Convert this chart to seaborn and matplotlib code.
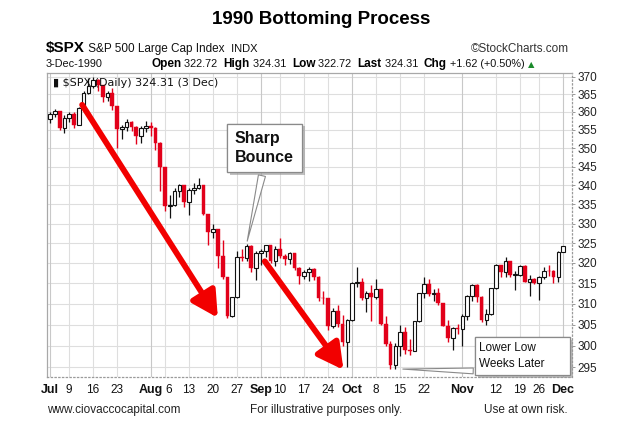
import matplotlib
matplotlib.use("Agg")
import matplotlib.pyplot as plt
import matplotlib.patheffects as pe
from matplotlib.patches import Rectangle
from matplotlib.ticker import FixedLocator, NullLocator, FixedFormatter
import numpy as np
import pandas as pd
import seaborn as sns

# ---------------- data ----------------
dates = ["Jul 2", "Jul 3", "Jul 5", "Jul 6", "Jul 9", "Jul 10", "Jul 11", "Jul 12", "Jul 13",
         "Jul 16", "Jul 17", "Jul 18", "Jul 19", "Jul 20", "Jul 23", "Jul 24", "Jul 25", "Jul 26",
         "Jul 27", "Jul 30", "Jul 31", "Aug 1", "Aug 2", "Aug 3", "Aug 6", "Aug 7", "Aug 8",
         "Aug 9", "Aug 10", "Aug 13", "Aug 14", "Aug 15", "Aug 16", "Aug 17", "Aug 20", "Aug 21",
         "Aug 22", "Aug 23", "Aug 24", "Aug 27", "Aug 28", "Aug 29", "Aug 30", "Aug 31", "Sep 4",
         "Sep 5", "Sep 6", "Sep 7", "Sep 10", "Sep 11", "Sep 12", "Sep 13", "Sep 14", "Sep 17",
         "Sep 18", "Sep 19", "Sep 20", "Sep 21", "Sep 24", "Sep 25", "Sep 26", "Sep 27", "Sep 28",
         "Oct 1", "Oct 2", "Oct 3", "Oct 4", "Oct 5", "Oct 8", "Oct 9", "Oct 10", "Oct 11",
         "Oct 12", "Oct 15", "Oct 16", "Oct 17", "Oct 18", "Oct 19", "Oct 22", "Oct 23", "Oct 24",
         "Oct 25", "Oct 26", "Oct 29", "Oct 30", "Oct 31", "Nov 1", "Nov 2", "Nov 5", "Nov 6",
         "Nov 7", "Nov 8", "Nov 9", "Nov 12", "Nov 13", "Nov 14", "Nov 15", "Nov 16", "Nov 19",
         "Nov 20", "Nov 21", "Nov 23", "Nov 26", "Nov 27", "Nov 28", "Nov 29", "Nov 30", "Dec 3"]

opens = [358.02, 359.54, 360.16, 355.42, 358.42, 359.52, 356.49, 361.23, 365.44,
         367.31, 368.95, 367.52, 364.22, 365.32, 361.61, 355.31, 355.79, 357.09,
         355.91, 353.44, 355.52, 356.15, 355.52, 351.48, 344.86, 334.43, 334.83,
         338.35, 339.94, 335.52, 338.84, 339.39, 340.06, 332.39, 327.83, 328.51,
         321.86, 316.55, 307.06, 311.51, 321.44, 321.34, 324.19, 318.71, 322.56,
         323.09, 324.39, 320.46, 323.40, 321.63, 321.04, 322.54, 318.65, 316.83,
         317.77, 318.60, 316.60, 311.48, 311.32, 304.59, 308.26, 305.06, 300.97,
         306.10, 314.94, 315.21, 311.40, 312.69, 311.50, 313.48, 305.10, 300.39,
         295.46, 300.03, 303.23, 298.92, 298.76, 305.74, 312.48, 314.76, 312.36,
         312.60, 310.17, 304.71, 301.88, 304.06, 304.00, 307.02, 311.85, 314.59,
         311.62, 306.01, 307.61, 313.74, 319.48, 317.67, 320.40, 317.02, 317.12,
         319.34, 315.31, 316.03, 315.10, 316.51, 318.10, 317.95, 316.42, 322.72]

highs = [359.9, 360.9, 360.2, 359.2, 360.0, 360.1, 361.5, 366.0, 369.7,
         369.8, 369.4, 367.6, 366.0, 366.8, 361.8, 356.3, 358.0, 357.6,
         356.0, 356.0, 357.5, 357.3, 355.7, 351.7, 344.9, 337.3, 339.2,
         340.2, 340.0, 339.2, 340.7, 341.9, 340.1, 332.5, 329.9, 328.6,
         325.8, 316.6, 311.7, 323.1, 323.4, 324.8, 324.6, 323.0, 323.4,
         324.5, 324.5, 324.2, 326.3, 322.2, 322.8, 322.6, 318.9, 318.3,
         318.9, 318.7, 316.7, 313.1, 311.4, 308.9, 309.6, 307.3, 306.4,
         315.2, 319.1, 316.3, 313.1, 314.5, 316.0, 313.6, 307.0, 301.0,
         300.6, 304.8, 304.3, 301.5, 305.9, 312.6, 316.6, 316.0, 313.5,
         313.7, 310.2, 306.1, 304.4, 305.1, 307.6, 312.0, 314.7, 314.7,
         311.8, 308.8, 313.9, 319.7, 319.6, 321.4, 320.6, 318.0, 319.6,
         319.4, 317.1, 316.2, 316.7, 318.9, 319.4, 318.3, 323.1, 324.31]

lows = [357.0, 358.6, 354.9, 354.0, 357.2, 355.6, 356.3, 360.6, 365.0,
        366.8, 365.9, 362.8, 363.0, 360.5, 350.0, 352.5, 354.8, 354.7,
        351.2, 351.5, 354.3, 353.3, 349.5, 338.5, 333.3, 331.3, 334.5,
        336.8, 334.2, 332.2, 337.6, 339.0, 332.1, 324.5, 326.2, 318.8,
        316.0, 306.6, 306.9, 311.4, 320.6, 320.5, 317.7, 315.8, 319.5,
        321.5, 319.9, 319.2, 321.3, 319.6, 319.8, 318.3, 314.8, 316.0,
        315.5, 315.8, 310.6, 309.8, 303.6, 304.1, 304.4, 299.9, 295.0,
        305.9, 314.1, 310.8, 307.9, 305.8, 311.2, 304.9, 300.0, 294.5,
        294.5, 297.6, 298.0, 297.8, 298.7, 305.6, 311.4, 311.8, 310.7,
        309.6, 304.6, 300.9, 299.0, 302.7, 300.0, 306.0, 310.7, 310.5,
        305.7, 305.0, 307.3, 313.6, 316.6, 316.6, 316.6, 313.4, 316.8,
        315.2, 311.8, 314.8, 310.8, 315.9, 316.8, 315.0, 315.3, 322.72]

closes = [359.54, 360.16, 355.42, 358.42, 359.52, 356.49, 361.23, 365.44, 367.31,
          368.95, 367.52, 364.22, 365.32, 361.61, 355.31, 355.79, 357.09, 355.91,
          353.44, 355.52, 356.15, 355.52, 351.48, 344.86, 334.43, 334.83, 338.35,
          339.94, 335.52, 338.84, 339.39, 340.06, 332.39, 327.83, 328.51, 321.86,
          316.55, 307.06, 311.51, 321.44, 321.34, 324.19, 318.71, 322.56, 323.09,
          324.39, 320.46, 323.40, 321.63, 321.04, 322.54, 318.65, 316.83, 317.77,
          318.60, 316.60, 311.48, 311.32, 304.59, 308.26, 305.06, 300.97, 306.10,
          314.94, 315.21, 311.40, 312.69, 311.50, 313.48, 305.10, 300.39, 295.46,
          300.03, 303.23, 298.92, 298.76, 305.74, 312.48, 314.76, 312.36, 312.60,
          310.17, 304.71, 301.88, 304.06, 304.00, 307.02, 311.85, 314.59, 311.62,
          306.01, 307.61, 313.74, 319.48, 317.67, 320.40, 317.02, 317.12, 319.34,
          315.31, 316.03, 315.10, 316.51, 318.10, 317.95, 316.42, 322.69, 324.31]

x_tick_dates = ["Jul 2", "Jul 9", "Jul 16", "Jul 23", "Aug 1", "Aug 6", "Aug 13", "Aug 20",
                "Aug 27", "Sep 4", "Sep 10", "Sep 17", "Sep 24", "Oct 1", "Oct 8", "Oct 15",
                "Oct 22", "Nov 1", "Nov 12", "Nov 19", "Nov 26", "Dec 3"]
x_tick_labels = ["Jul", "9", "16", "23", "Aug", "6", "13", "20", "27", "Sep", "10", "17",
                 "24", "Oct", "8", "15", "22", "Nov", "12", "19", "26", "Dec"]
y_ticks = [295, 300, 305, 310, 315, 320, 325, 330, 335, 340, 345, 350, 355, 360, 365, 370]

df = pd.DataFrame({"date": dates, "open": opens, "high": highs, "low": lows, "close": closes})
df["i"] = np.arange(len(df))

# ---------------- style ----------------
sns.set_theme(style="white")
plt.rcParams["font.family"] = ["Liberation Sans", "DejaVu Sans"]

W, H = 642, 426
fig = plt.figure(figsize=(W / 100, H / 100), dpi=100)
fig.patch.set_facecolor("white")

def fx(px):
    return px / W

def fy(py):
    return 1 - py / H

ax_l, ax_r, ax_t, ax_b = 46.7, 571.7, 73.0, 377.3
ax = fig.add_axes([fx(ax_l), fy(ax_b), (ax_r - ax_l) / W, (ax_b - ax_t) / H])
ax.set_facecolor("white")
ax.set_yscale("log")
ax.set_ylim(292.7, 371.1)
ax.set_xlim(-0.69, 108.8)

RED = "#e2001a"
GRID = "#dedede"

# grid
for v in y_ticks:
    ax.axhline(v, color=GRID, lw=0.8, zorder=0)
pos_map = {d: k for k, d in enumerate(dates)}
xt = [pos_map[d] for d in x_tick_dates]
month_names = {"Jul", "Aug", "Sep", "Oct", "Nov", "Dec"}
for p, lab in zip(xt, x_tick_labels):
    ax.axvline(p, color="#c8c8c8" if lab in month_names else GRID, lw=0.8, zorder=0)

# candles
up = df[df["close"] >= df["open"]]
dn = df[df["close"] < df["open"]]
ax.vlines(dn["i"], dn["low"], dn["high"], color=RED, lw=1.0, zorder=2)
ax.vlines(up["i"], up["low"], up["high"], color="#111111", lw=0.9, zorder=2)
ax.bar(dn["i"], (dn["open"] - dn["close"]).clip(lower=0.15), bottom=dn["close"], width=0.8,
       color=RED, edgecolor=RED, lw=0.3, zorder=3)
ax.bar(up["i"], (up["close"] - up["open"]).clip(lower=0.15), bottom=up["open"], width=0.72,
       color="white", edgecolor="#111111", lw=0.8, zorder=3)

# axes ticks
ax.yaxis.set_major_locator(FixedLocator(y_ticks))
ax.yaxis.set_minor_locator(NullLocator())
ax.yaxis.set_major_formatter(FixedFormatter([str(v) for v in y_ticks]))
ax.yaxis.tick_right()
ax.tick_params(axis="y", which="major", length=2, width=0.6, color="#888888", pad=2,
               labelsize=8.5, labelcolor="#222222", right=True, left=False)
ax.set_xticks(xt)
ax.set_xticklabels(x_tick_labels)
ax.tick_params(axis="x", length=0, pad=5, labelsize=8.5, labelcolor="#111111")
for t in ax.get_xticklabels():
    if t.get_text() in month_names:
        t.set_fontweight("bold")
        t.set_fontsize(9)
    if t.get_text() == "6":
        t.set_horizontalalignment("left")
        t.set_x(xt[5])

for s in ["left", "top"]:
    ax.spines[s].set_color("#a8a8a8")
    ax.spines[s].set_linewidth(0.9)
for s in ["right", "bottom"]:
    ax.spines[s].set_color("#9a9a9a")
    ax.spines[s].set_linewidth(0.9)
    ax.spines[s].set_linestyle((0, (1, 2)))

# red arrows
arrow_kw = dict(arrowstyle="-|>,head_length=1.3,head_width=0.7", color="#f20000", lw=4.2,
                shrinkA=0, shrinkB=0, mutation_scale=12)
ax.annotate("", xy=(35.0, 306.6), xytext=(6.7, 362.0), arrowprops=arrow_kw, zorder=5)
ax.annotate("", xy=(61.2, 294.4), xytext=(44.8, 320.4), arrowprops=arrow_kw, zorder=5)

# callout 1
a1 = ax.annotate("Sharp\nBounce", xy=(41.0, 324.8), xycoords="data",
                 xytext=(235, H - 148), textcoords="figure pixels",
                 ha="left", va="center", fontsize=11.5, fontweight="bold", color="#111111",
                 linespacing=1.25,
                 bbox=dict(boxstyle="square,pad=0.5", fc="white", ec="#8a8a8a", lw=0.9),
                 arrowprops=dict(arrowstyle="wedge,tail_width=0.45,shrink_factor=0.5",
                                 fc="white", ec="#8a8a8a", lw=0.8, relpos=(0.5, 0.0)),
                 zorder=6)
a1.get_bbox_patch().set_path_effects([pe.withSimplePatchShadow(offset=(2, -2), shadow_rgbFace="#999999", alpha=0.6), pe.Normal()])

# callout 2 (box + wedge pointer)
ax.annotate("", xy=(73.0, 294.6), xycoords="data",
            xytext=(476, H - 371), textcoords="figure pixels",
            arrowprops=dict(arrowstyle="wedge,tail_width=0.35,shrink_factor=0.5",
                            fc="white", ec="#8a8a8a", lw=0.8), zorder=6)
box2 = Rectangle((fx(475), fy(375)), (570 - 475) / W, (375 - 337) / H, transform=fig.transFigure,
                 fc="white", ec="#8a8a8a", lw=0.9, zorder=7, clip_on=False)
box2.set_path_effects([pe.withSimplePatchShadow(offset=(2, -2), shadow_rgbFace="#999999", alpha=0.6), pe.Normal()])
ax.add_patch(box2)
ax.text(fx(479), fy(356), "Lower Low\nWeeks Later", transform=fig.transFigure, ha="left", va="center",
        fontsize=8.5, color="#111111", linespacing=1.55, zorder=8, clip_on=False)

# inner label
ax.text(0.012, 0.985, "\u25AE $SPX (Daily) 324.31 (3 Dec)", transform=ax.transAxes,
        ha="left", va="top", fontsize=8, family=["DejaVu Sans"], color="#111111", zorder=7)

# ---------------- header texts ----------------
fig.text(0.5, fy(19), "1990 Bottoming Process", ha="center", va="center",
         fontsize=13.5, fontweight="bold", color="black")

renderer = fig.canvas.get_renderer()

def seq(x0, y, pieces, va="baseline"):
    x = x0
    for s, w, size, col in pieces:
        t = fig.text(fx(x), fy(y), s, ha="left", va=va, fontsize=size, fontweight=w, color=col)
        bb = t.get_window_extent(renderer)
        x += bb.width
    return x

seq(46, 52, [("$SPX", "bold", 11, "black"), (" S&P 500 Large Cap Index ", "normal", 8.5, "#111111"),
             (" INDX", "normal", 8, "#111111")])
fig.text(fx(569), fy(52), "\u00a9StockCharts.com", ha="right", va="baseline", fontsize=8.5, color="#333333")
fig.text(fx(46), fy(67), "3-Dec-1990", ha="left", va="baseline", fontsize=7.8, color="#111111")
xend = seq(151, 67, [("Open", "bold", 8.5, "black"), (" 322.72  ", "normal", 7.8, "#111111"),
                     ("High", "bold", 8.5, "black"), (" 324.31  ", "normal", 7.8, "#111111"),
                     ("Low", "bold", 8.5, "black"), (" 322.72  ", "normal", 7.8, "#111111"),
                     ("Last", "bold", 8.5, "black"), (" 324.31  ", "normal", 7.8, "#111111"),
                     ("Chg", "bold", 8.5, "black"), (" +1.62 (+0.50%) ", "normal", 7.8, "#111111")])
fig.text(fx(xend), fy(67), "\u25B2", ha="left", va="baseline", fontsize=6, color="#1a8a2a",
         family=["DejaVu Sans"])

# footer
fig.text(fx(47), fy(413), "www.ciovaccocapital.com", ha="left", va="baseline", fontsize=8.5, color="#222222")
fig.text(fx(326), fy(413), "For illustrative purposes only.", ha="center", va="baseline", fontsize=8.5, color="#222222")
fig.text(fx(568), fy(413), "Use at own risk.", ha="right", va="baseline", fontsize=8.5, color="#222222")

fig.savefig("out.png", dpi=100, facecolor="white")
